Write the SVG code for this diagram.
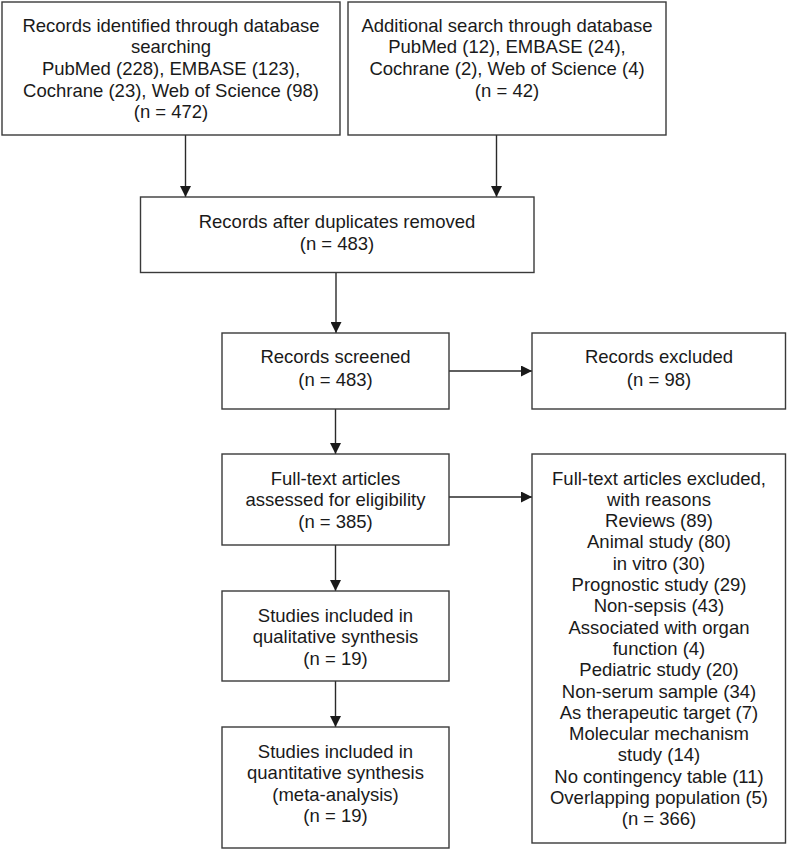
<svg xmlns="http://www.w3.org/2000/svg" width="787" height="850" viewBox="0 0 787 850">
<style>
.box{fill:#fff;stroke:#3a3a3a;stroke-width:1.4}
.t{font-family:"Liberation Sans",Arial,sans-serif;font-size:18.5px;fill:#1a1a1a;text-anchor:middle}
.c{stroke:#2a2a2a;stroke-width:1.4;fill:none;marker-end:url(#ah)}
</style>
<defs>
<marker id="ah" markerUnits="userSpaceOnUse" markerWidth="11" markerHeight="11" refX="11" refY="5.5" orient="auto">
<path d="M0,0 L11,5.5 L0,11 z" fill="#1a1a1a"/>
</marker>
</defs>
<rect width="787" height="850" fill="#fff"/>
<g id="connectors">
<line class="c" x1="185.5" y1="135" x2="185.5" y2="197"/>
<line class="c" x1="496.5" y1="135" x2="496.5" y2="197"/>
<line class="c" x1="336" y1="272.5" x2="336" y2="333"/>
<line class="c" x1="335.5" y1="409" x2="335.5" y2="454"/>
<line class="c" x1="335.5" y1="545" x2="335.5" y2="591"/>
<line class="c" x1="335.5" y1="681" x2="335.5" y2="727"/>
<line class="c" x1="449" y1="371" x2="532" y2="371"/>
<line class="c" x1="449" y1="497" x2="532" y2="497"/>
</g>
<g id="identified">
<rect class="box" x="2" y="2" width="338" height="133"/>
<text class="t" x="171" y="31.5">Records identified through database</text>
<text class="t" x="171" y="53.2">searching</text>
<text class="t" x="171" y="74.9">PubMed (228), EMBASE (123),</text>
<text class="t" x="171" y="96.6">Cochrane (23), Web of Science (98)</text>
<text class="t" x="171" y="118.3">(n = 472)</text>
</g>
<g id="additional">
<rect class="box" x="348" y="2" width="318" height="133"/>
<text class="t" x="507" y="31.5">Additional search through database</text>
<text class="t" x="507" y="53.2">PubMed (12), EMBASE (24),</text>
<text class="t" x="507" y="74.9">Cochrane (2), Web of Science (4)</text>
<text class="t" x="507" y="96.6">(n = 42)</text>
</g>
<g id="duplicates">
<rect class="box" x="140.5" y="197" width="393.5" height="75.5"/>
<text class="t" x="337" y="228.2">Records after duplicates removed</text>
<text class="t" x="337" y="249.9">(n = 483)</text>
</g>
<g id="screened">
<rect class="box" x="222" y="333" width="227" height="76"/>
<text class="t" x="335.5" y="363.2">Records screened</text>
<text class="t" x="335.5" y="385.8">(n = 483)</text>
</g>
<g id="excluded">
<rect class="box" x="532" y="333" width="253.5" height="76"/>
<text class="t" x="659" y="363.2">Records excluded</text>
<text class="t" x="659" y="385.8">(n = 98)</text>
</g>
<g id="fulltext">
<rect class="box" x="222" y="454" width="227" height="91"/>
<text class="t" x="335.5" y="484.5">Full-text articles</text>
<text class="t" x="335.5" y="506">assessed for eligibility</text>
<text class="t" x="335.5" y="527.5">(n = 385)</text>
</g>
<g id="qualitative">
<rect class="box" x="222" y="591" width="227" height="90"/>
<text class="t" x="335.5" y="621.5">Studies included in</text>
<text class="t" x="335.5" y="643">qualitative synthesis</text>
<text class="t" x="335.5" y="664.5">(n = 19)</text>
</g>
<g id="quantitative">
<rect class="box" x="222" y="727" width="227" height="121"/>
<text class="t" x="335.5" y="757.5">Studies included in</text>
<text class="t" x="335.5" y="779">quantitative synthesis</text>
<text class="t" x="335.5" y="800.5">(meta-analysis)</text>
<text class="t" x="335.5" y="822">(n = 19)</text>
</g>
<g id="fulltext-excluded">
<rect class="box" x="532" y="454" width="253.5" height="389"/>
<text class="t" x="659" y="484.5">Full-text articles excluded,</text>
<text class="t" x="659" y="505.8">with reasons</text>
<text class="t" x="659" y="527.1">Reviews (89)</text>
<text class="t" x="659" y="548.4">Animal study (80)</text>
<text class="t" x="659" y="569.7">in vitro (30)</text>
<text class="t" x="659" y="591">Prognostic study (29)</text>
<text class="t" x="659" y="612.3">Non-sepsis (43)</text>
<text class="t" x="659" y="633.6">Associated with organ</text>
<text class="t" x="659" y="654.9">function (4)</text>
<text class="t" x="659" y="676.2">Pediatric study (20)</text>
<text class="t" x="659" y="697.5">Non-serum sample (34)</text>
<text class="t" x="659" y="718.8">As therapeutic target (7)</text>
<text class="t" x="659" y="740.1">Molecular mechanism</text>
<text class="t" x="659" y="761.4">study (14)</text>
<text class="t" x="659" y="782.7">No contingency table (11)</text>
<text class="t" x="659" y="804">Overlapping population (5)</text>
<text class="t" x="659" y="825.3">(n = 366)</text>
</g>
</svg>
